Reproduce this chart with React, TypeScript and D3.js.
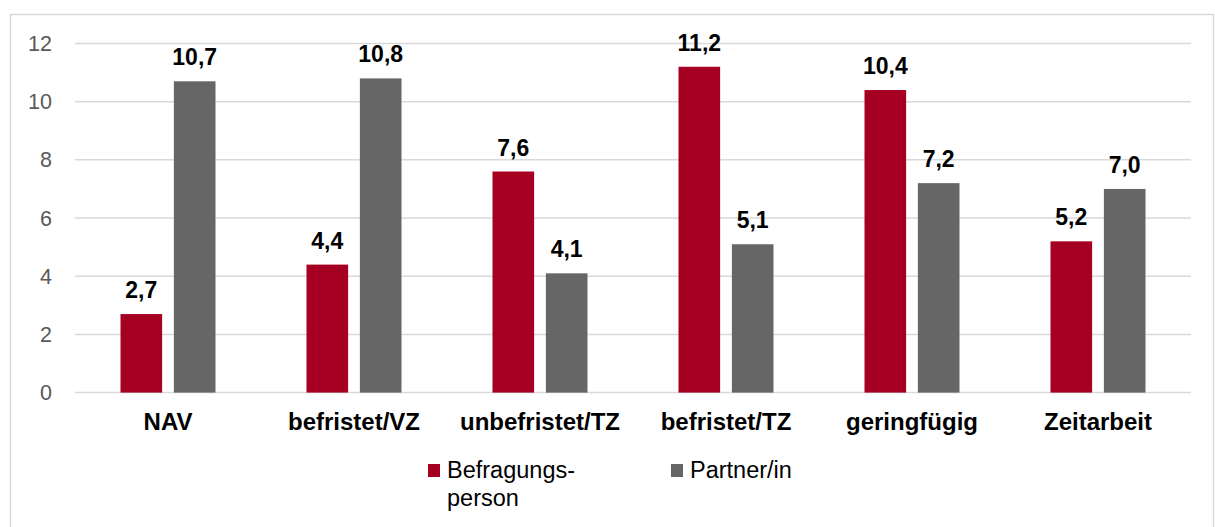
import React, { useEffect, useRef } from 'react';
import * as d3 from 'd3';

const categories = ['NAV', 'befristet/VZ', 'unbefristet/TZ', 'befristet/TZ', 'geringfügig', 'Zeitarbeit'];
const befragungsperson = [2.7, 4.4, 7.6, 11.2, 10.4, 5.2];
const partner = [10.7, 10.8, 4.1, 5.1, 7.2, 7.0];
const yTicks = [0, 2, 4, 6, 8, 10, 12];
const seriesNames = ['Befragungs-|person', 'Partner/in'];
const seriesColors = ['#A50021', '#666666'];

const App: React.FC = () => {
  const ref = useRef<SVGSVGElement>(null);

  useEffect(() => {
    if (!ref.current) return;
    const width = 1215;
    const height = 527;
    const left = 75;
    const right = 1191;
    const top = 43.5;
    const bottom = 392.6;
    const font = "'Liberation Sans', Arial, sans-serif";

    const svg = d3.select(ref.current);
    svg.selectAll('*').remove();
    svg.attr('width', width).attr('height', height);

    // chart border
    svg.append('rect')
      .attr('x', 10.5).attr('y', 14.5)
      .attr('width', 1203).attr('height', 520)
      .attr('fill', 'white')
      .attr('stroke', '#d9d9d9').attr('stroke-width', 1.5);

    const x = d3.scaleBand().domain(categories).range([left, right]).paddingInner(0).paddingOuter(0);
    const y = d3.scaleLinear().domain([0, 12]).range([bottom, top]);
    const x1 = d3.scaleBand().domain(['0', '1']).range([0, 95]).paddingInner(0.22);
    const barOffset = (x.bandwidth() - 95) / 2;

    // gridlines
    svg.append('g')
      .selectAll('line')
      .data(yTicks)
      .join('line')
      .attr('x1', left).attr('x2', right)
      .attr('y1', d => y(d)).attr('y2', d => y(d))
      .attr('stroke', '#d9d9d9').attr('stroke-width', 1.5);

    svg.append('g')
      .selectAll('text')
      .data(yTicks)
      .join('text')
      .attr('x', 52)
      .attr('y', d => y(d) + 7.5)
      .attr('text-anchor', 'end')
      .attr('font-family', font)
      .attr('font-size', 21.5)
      .attr('fill', '#595959')
      .text(d => d);

    const series = [befragungsperson, partner];
    series.forEach((vals, si) => {
      const g = svg.append('g');
      g.selectAll('rect')
        .data(vals)
        .join('rect')
        .attr('x', (d, i) => (x(categories[i]) as number) + barOffset + (x1(String(si)) as number))
        .attr('width', x1.bandwidth())
        .attr('y', d => y(d))
        .attr('height', d => bottom - y(d))
        .attr('fill', seriesColors[si]);
      g.selectAll('text')
        .data(vals)
        .join('text')
        .attr('x', (d, i) => (x(categories[i]) as number) + barOffset + (x1(String(si)) as number) + x1.bandwidth() / 2)
        .attr('y', d => y(d) - 16)
        .attr('text-anchor', 'middle')
        .attr('font-family', font)
        .attr('font-size', 23)
        .attr('font-weight', 'bold')
        .attr('fill', '#000')
        .text(d => d.toFixed(1).replace('.', ','));
    });

    // category labels
    svg.append('g')
      .selectAll('text')
      .data(categories)
      .join('text')
      .attr('x', d => (x(d) as number) + x.bandwidth() / 2)
      .attr('y', 430)
      .attr('text-anchor', 'middle')
      .attr('font-family', font)
      .attr('font-size', 24)
      .attr('font-weight', 'bold')
      .attr('fill', '#000')
      .text(d => d);

    // legend
    const legendX = [428, 671];
    seriesNames.forEach((name, i) => {
      const lg = svg.append('g').attr('transform', `translate(${legendX[i]},464)`);
      lg.append('rect').attr('width', 12).attr('height', 13).attr('fill', seriesColors[i]);
      const t = lg.append('text')
        .attr('font-family', font)
        .attr('font-size', 23.5)
        .attr('fill', '#000');
      name.split('|').forEach((line, li) => {
        t.append('tspan').attr('x', 19).attr('y', 14 + li * 28).text(line);
      });
    });
  }, []);

  return <svg ref={ref} style={{ position: 'absolute', left: 0, top: 0 }} />;
};

export default App;
